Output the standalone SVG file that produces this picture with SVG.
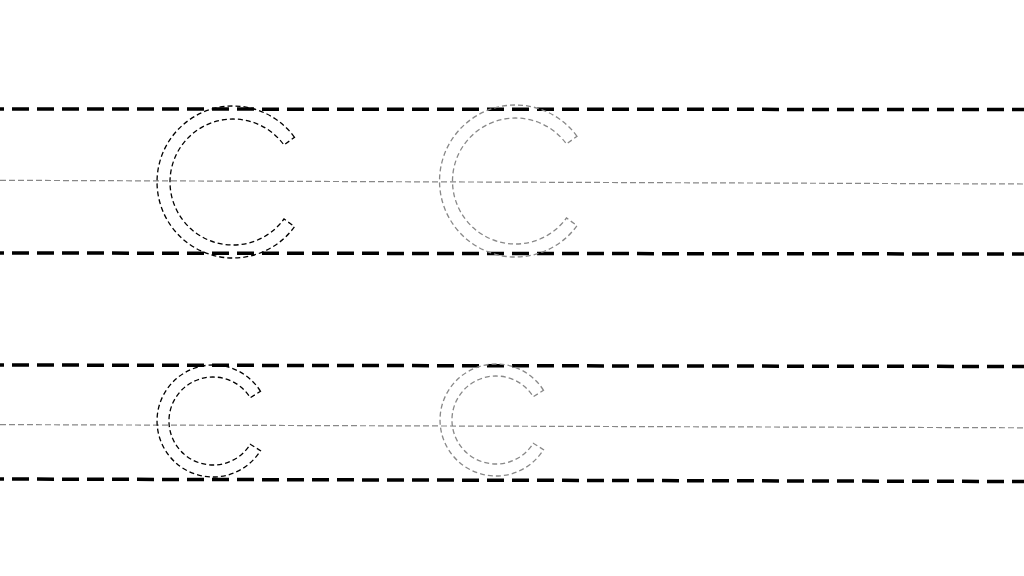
<svg xmlns="http://www.w3.org/2000/svg" width="1024" height="576" viewBox="0 0 1024 576">
  <style>
    .guide { stroke: #000; stroke-width: 3.5; stroke-dasharray: 17 8; stroke-dashoffset: 13; fill: none; }
    .mid { stroke: #888; stroke-width: 1.2; stroke-dasharray: 6 3; fill: none; }
    .letter { fill: none; stroke-width: 1.3; stroke-dasharray: 5 3; }
    .black { stroke: #000; }
    .gray { stroke: #888; }
  </style>
  <defs>
    <path id="bigC" d="M61.5,-44.7 A76,76 0 1 0 61.5,44.7 L51,37 A63,63 0 1 1 51,-37 Z"/>
    <path id="smallC" d="M47.5,-29.7 A56,56 0 1 0 47.5,29.7 L37.3,23.3 A44,44 0 1 1 37.3,-23.3 Z"/>
  </defs>
  <rect width="1024" height="576" fill="#fff"/>
  <g id="guides">
    <line class="guide" x1="0" y1="109" x2="1024" y2="109.5"/>
    <line class="mid" x1="0" y1="180.3" x2="1024" y2="184"/>
    <line class="guide" x1="0" y1="253" x2="1024" y2="254"/>
    <line class="guide" x1="0" y1="365" x2="1024" y2="366.5"/>
    <line class="mid" x1="0" y1="424.6" x2="1024" y2="427.8"/>
    <line class="guide" x1="0" y1="479" x2="1024" y2="481.5"/>
  </g>
  <g id="upper-C-black"><use href="#bigC" class="letter black" transform="translate(233,182)"/></g>
  <g id="upper-C-gray"><use href="#bigC" class="letter gray" transform="translate(515.5,181)"/></g>
  <g id="lower-c-black"><use href="#smallC" class="letter black" transform="translate(213,421)"/></g>
  <g id="lower-c-gray"><use href="#smallC" class="letter gray" transform="translate(496,420)"/></g>
</svg>
